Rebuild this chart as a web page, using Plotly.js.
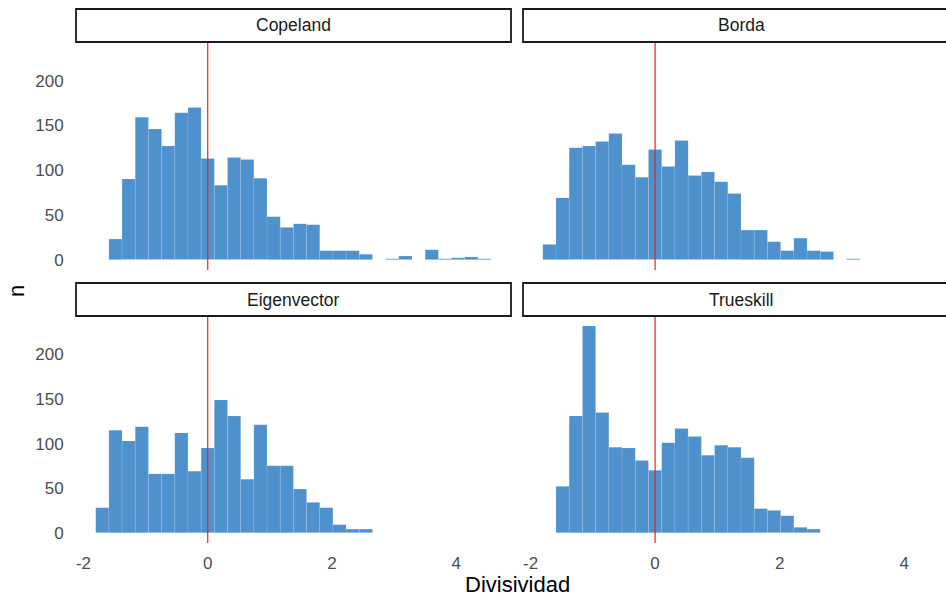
<!DOCTYPE html>
<html>
<head>
<meta charset="utf-8">
<script src="https://cdn.plot.ly/plotly-3.0.1.min.js"></script>
<style>
html,body{margin:0;padding:0;background:#fff;}
#chart{width:946px;height:596px;}
</style>
</head>
<body>
<div id="chart"></div>
<script>
// Histogram bins (index k -> bin centred on k * binWidth)
const binWidth = 0.2122;
const binIndex = [-8,-7,-6,-5,-4,-3,-2,-1,0,1,2,3,4,5,6,7,8,9,10,11,12,13,14,15,16,17,18,19,20,21];

const methods = ["Copeland", "Borda", "Eigenvector", "Trueskill"];

const copeland    = [0,23,90,159,146,127,164,170,113,83,114,112,91,48,36,40,39,10,10,10,6,0,1,4,0,11,1,2,3,1];
const borda       = [17,69,125,127,132,141,106,92,123,104,133,94,98,87,74,33,33,20,10,24,10,9,0,1,0,0,0,0,0,0];
const eigenvector = [28,115,103,119,66,66,112,69,95,149,131,60,121,75,75,49,34,28,9,4,4,0,0,0,0,0,0,0,0,0];
const trueskill   = [0,52,131,232,135,96,95,81,70,101,117,108,87,98,96,84,27,25,19,6,4,0,0,0,0,0,0,0,0,0];

const xTickVals = [-2, 0, 2, 4];
const xTickText = ["-2", "0", "2", "4"];
const yTickVals = [0, 50, 100, 150, 200];
const yTickText = ["0", "50", "100", "150", "200"];

const xLabel = "Divisividad";
const yLabel = "n";

const centers = binIndex.map(k => k * binWidth);
const series = [copeland, borda, eigenvector, trueskill];

const barColor = "rgb(78,145,204)";
const axisIds = [["x","y"],["x2","y2"],["x3","y3"],["x4","y4"]];

const traces = series.map((vals, i) => ({
  type: "bar",
  x: centers,
  y: vals,
  width: binWidth,
  xaxis: axisIds[i][0],
  yaxis: axisIds[i][1],
  marker: {color: barColor, line: {color: "rgba(255,255,255,0.22)", width: 0.5}},
  showlegend: false,
  hoverinfo: "x+y"
}));

const W = 946, H = 596;
const leftDom  = [76/W, 511/W];
const rightDom = [523/W, 1];
const topDom   = [1 - 270/H, 1 - 42/H];
const botDom   = [1 - 543/H, 1 - 316/H];

const xRangeL = [-2.121, 4.883];
const xRangeR = [-2.121, (946 - 655) / 62.3];
const yRange  = [-11.6, 243.2];

const font = "Liberation Sans, Arial, sans-serif";
const tickFont = {family: font, size: 17, color: "#4d4d4d"};

function xa(dom, range, anchor, showLabels) {
  return {
    domain: dom, range: range, anchor: anchor,
    showgrid: false, zeroline: false, showline: false,
    tickvals: xTickVals, ticktext: xTickText,
    showticklabels: showLabels,
    ticks: "outside", ticklen: 5, tickcolor: "rgba(0,0,0,0)",
    tickfont: tickFont, fixedrange: true
  };
}
function ya(dom, anchor, showLabels) {
  return {
    domain: dom, range: yRange, anchor: anchor,
    showgrid: false, zeroline: false, showline: false,
    tickvals: yTickVals, ticktext: yTickText,
    showticklabels: showLabels,
    ticks: "outside", ticklen: 8, tickcolor: "rgba(0,0,0,0)",
    tickfont: tickFont, fixedrange: true
  };
}

const shapes = [];
const annotations = [];
// vertical red reference lines at 0
axisIds.forEach(ax => {
  shapes.push({type: "line", xref: ax[0], yref: ax[1] + " domain",
    x0: 0, x1: 0, y0: 0, y1: 1, line: {color: "#ee2222", width: 1.2}});
});
// facet strips
const strips = [
  {x0: leftDom[0], x1: leftDom[1], y0: 1 - 42/H, y1: 1 - 9/H},
  {x0: rightDom[0], x1: 1.01, y0: 1 - 42/H, y1: 1 - 9/H},
  {x0: leftDom[0], x1: leftDom[1], y0: 1 - 316/H, y1: 1 - 283/H},
  {x0: rightDom[0], x1: 1.01, y0: 1 - 316/H, y1: 1 - 283/H}
];
strips.forEach((s, i) => {
  shapes.push({type: "rect", xref: "paper", yref: "paper",
    x0: s.x0, x1: s.x1, y0: s.y0, y1: s.y1,
    fillcolor: "#ffffff", line: {color: "#1a1a1a", width: 1.8}});
  const cx = i % 2 === 0 ? (leftDom[0] + leftDom[1]) / 2 : (rightDom[0] + 959/W) / 2;
  annotations.push({xref: "paper", yref: "paper", x: cx, y: (s.y0 + s.y1) / 2,
    text: methods[i], showarrow: false, xanchor: "center", yanchor: "middle",
    font: {family: font, size: 17.5, color: "#1a1a1a"}});
});
annotations.push({xref: "paper", yref: "paper", x: 517/W, y: 1 - 584/H,
  text: xLabel, showarrow: false, xanchor: "center", yanchor: "middle",
  font: {family: font, size: 22, color: "#000"}});
annotations.push({xref: "paper", yref: "paper", x: 16/W, y: 1 - 291/H,
  text: yLabel, showarrow: false, xanchor: "center", yanchor: "middle", textangle: -90,
  font: {family: font, size: 22, color: "#000"}});

const layout = {
  width: W, height: H,
  margin: {l: 0, r: 0, t: 0, b: 0},
  paper_bgcolor: "#fff", plot_bgcolor: "#fff",
  bargap: 0,
  barmode: "overlay",
  xaxis:  xa(leftDom,  xRangeL, "y",  false),
  xaxis2: xa(rightDom, xRangeR, "y2", false),
  xaxis3: xa(leftDom,  xRangeL, "y3", true),
  xaxis4: xa(rightDom, xRangeR, "y4", true),
  yaxis:  ya(topDom, "x",  true),
  yaxis2: ya(topDom, "x2", false),
  yaxis3: ya(botDom, "x3", true),
  yaxis4: ya(botDom, "x4", false),
  shapes: shapes,
  annotations: annotations,
  font: {family: font}
};

Plotly.newPlot("chart", traces, layout, {displayModeBar: false, staticPlot: true});
</script>
</body>
</html>
